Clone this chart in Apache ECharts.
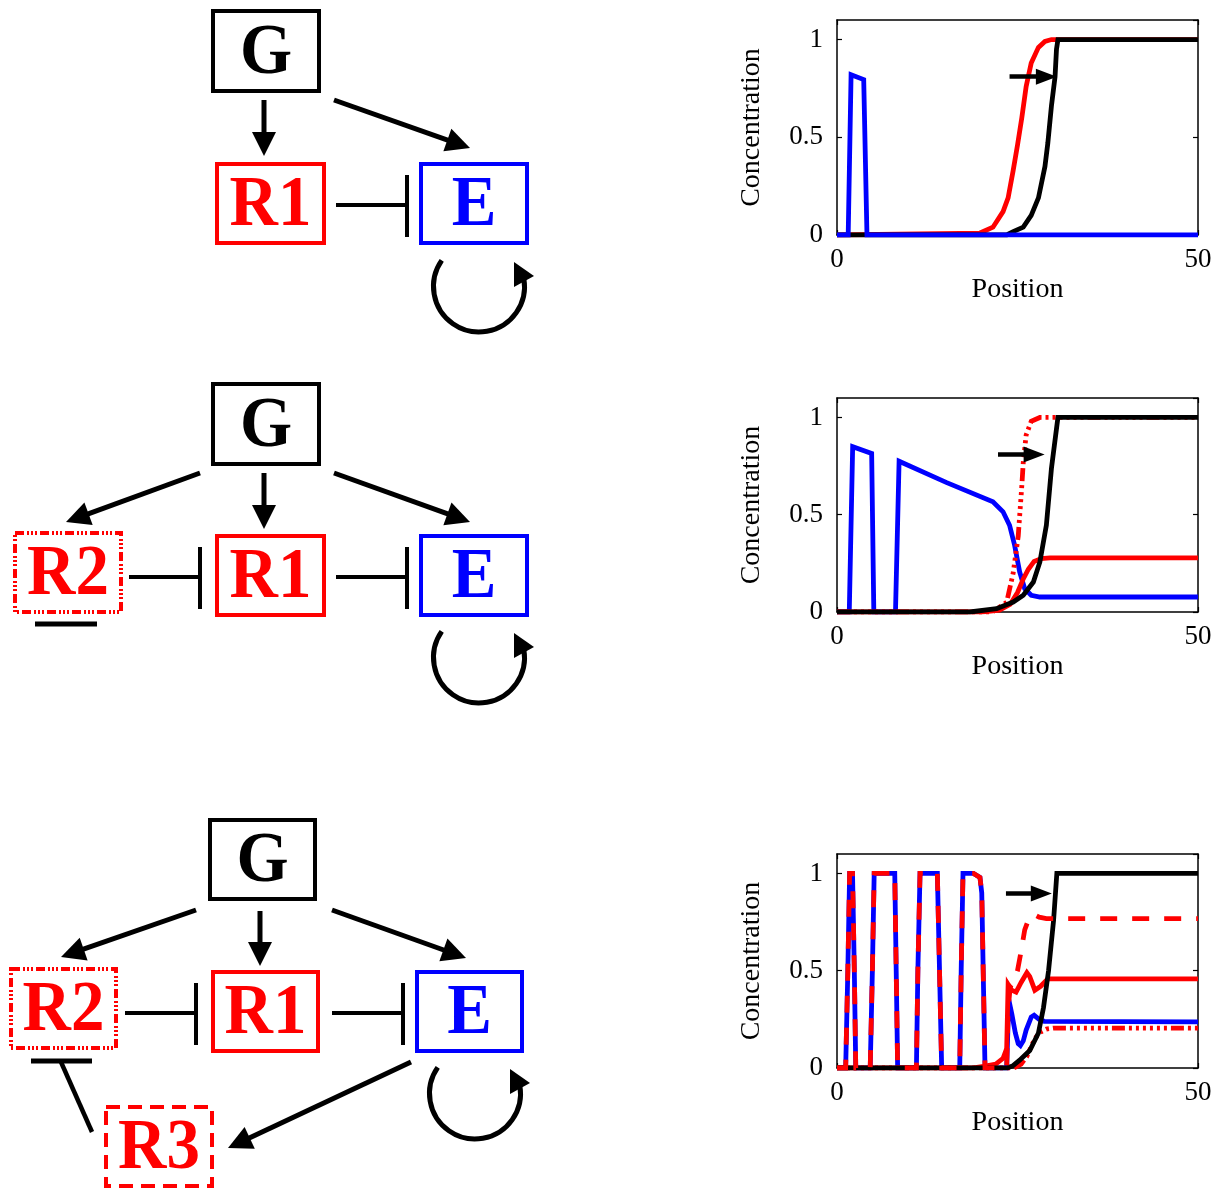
<!DOCTYPE html>
<html>
<head>
<meta charset="utf-8">
<script src="https://cdn.jsdelivr.net/npm/echarts@6/dist/echarts.min.js"></script>
<style>
  html, body { margin: 0; padding: 0; background: #ffffff; }
  #chart { width: 1224px; height: 1190px; }
</style>
</head>
<body>
<div id="chart"></div>
<script>
// ---- Axis ticks ----
const positionTicks = [0, 50];
const concentrationTicks = [0, 0.5, 1];

// ---- Panel 1: G, R1, E profiles along position ----
const p1G = [[0,0],[23.5,0],[24.4,0.017],[25.8,0.04],[26.9,0.1],[27.9,0.19],[28.8,0.35],[29.2,0.47],[29.7,0.66],[30.2,0.81],[30.4,0.95],[30.6,1],[50,1]];
const p1R1 = [[0,0],[19.8,0.01],[21.6,0.04],[23.0,0.12],[23.7,0.19],[24.4,0.33],[25.0,0.46],[25.6,0.6],[26.2,0.76],[26.9,0.88],[27.9,0.96],[28.8,0.99],[29.7,1],[50,1]];
const p1E = [[0,0],[1.55,0],[1.95,0.82],[3.7,0.795],[4.15,0],[50,0]];
const p1Shift = [23.9, 29.0, 0.81];   // [from, head, level]

// ---- Panel 2: G, R1, R2, E ----
const p2G = [[0,0],[18.4,0],[22.1,0.017],[24.4,0.051],[25.8,0.086],[27.2,0.154],[28.1,0.257],[29.0,0.446],[29.7,0.738],[30.6,1],[50,1]];
const p2R1 = [[0,0],[20,0],[22.5,0.01],[24.0,0.04],[25.0,0.1],[25.8,0.17],[26.5,0.22],[27.3,0.26],[28.3,0.275],[29.5,0.278],[50,0.278]];
const p2R2 = [[0,0],[21.5,0],[23.5,0.05],[24.4,0.2],[25.1,0.39],[25.6,0.65],[25.8,0.77],[26.2,0.91],[26.9,0.98],[28.1,1],[50,1]];
const p2E = [[0,0],[1.7,0],[2.17,0.85],[4.8,0.815],[5.1,0],[8.1,0],[8.6,0.775],[15.2,0.665],[21.6,0.566],[23.0,0.515],[23.9,0.446],[24.6,0.343],[25.3,0.206],[26.0,0.12],[26.9,0.086],[28.1,0.077],[50,0.077]];
const p2Shift = [22.3, 27.3, 0.81];

// ---- Panel 3: G, R1, R2, R3, E ----
const p3G = [[0,0],[23.5,0],[24.3,0.01],[25.3,0.04],[26.7,0.09],[27.9,0.18],[28.6,0.31],[29.3,0.5],[30.0,0.76],[30.45,1],[50,1]];
const p3R1 = [[0,0],[18.7,0],[20.5,0.01],[22.0,0.02],[23.0,0.05],[23.5,0.1],[23.7,0.43],[24.2,0.4],[24.8,0.39],[25.5,0.44],[26.3,0.49],[26.7,0.47],[27.4,0.4],[28.2,0.42],[29.2,0.458],[50,0.458]];
const p3R2 = [[0,0],[24.5,0],[25.5,0.02],[26.3,0.06],[27.0,0.12],[27.6,0.16],[28.2,0.185],[29.0,0.2],[30,0.205],[50,0.205]];
const p3R3 = [[0,0],[1.2,0],[1.5,0.5],[1.75,1],[2.15,1],[2.4,0.5],[2.6,0],[4.6,0],[4.9,0.5],[5.15,1],[8.0,1],[8.2,0.5],[8.4,0],[11.0,0],[11.2,0.5],[11.5,1],[13.9,1],[14.2,0.5],[14.5,0],[17.0,0],[17.2,0.5],[17.45,1],[18.9,1],[19.8,0.98],[20.05,0.9],[20.3,0.4],[20.5,0],[23.5,0],[23.7,0.3],[24.0,0.42],[24.5,0.44],[25.0,0.5],[25.5,0.6],[26.0,0.71],[26.6,0.77],[27.2,0.79],[28.0,0.775],[29,0.768],[50,0.768]];
const p3E = [[0,0],[1.2,0],[1.5,0.5],[1.75,1],[2.15,1],[2.4,0.5],[2.6,0],[4.6,0],[4.9,0.5],[5.15,1],[8.0,1],[8.2,0.5],[8.4,0],[11.0,0],[11.2,0.5],[11.5,1],[13.9,1],[14.2,0.5],[14.5,0],[17.0,0],[17.2,0.5],[17.45,1],[18.9,1],[19.8,0.98],[20.05,0.9],[20.3,0.4],[20.5,0],[23.5,0],[23.8,0.35],[24.2,0.28],[24.7,0.18],[25.1,0.125],[25.4,0.115],[25.8,0.14],[26.2,0.195],[26.9,0.262],[27.3,0.271],[28.0,0.25],[28.7,0.24],[50,0.237]];
const p3Shift = [23.4, 28.3, 0.897];

// ---- Styling ----
const SERIF = '"Liberation Serif", "Times New Roman", serif';
const RED = '#ff0000', BLUE = '#0000ff', BLACK = '#000000';
const DASHDOT = [13, 4, 3, 4, 3, 4, 3, 4, 3, 4, 3, 4, 3, 4];
const DASHED = [17, 15];
const LINE_W = 4.8;

const grids = [
  { left: 837, top: 20,  width: 361, height: 215 },
  { left: 837, top: 398, width: 361, height: 214 },
  { left: 837, top: 854, width: 361, height: 214 }
];

const xAxes = [], yAxes = [];
grids.forEach((g, i) => {
  xAxes.push({
    gridIndex: i, type: 'value', position: 'bottom',
    min: positionTicks[0], max: positionTicks[positionTicks.length - 1], interval: 50,
    name: 'Position', nameLocation: 'middle', nameGap: 41,
    nameTextStyle: { fontFamily: SERIF, fontSize: 28, color: BLACK },
    axisLine: { onZero: false, lineStyle: { color: BLACK, width: 1.5 } },
    axisTick: { inside: true, length: 5, lineStyle: { color: BLACK, width: 1.2 } },
    axisLabel: { fontFamily: SERIF, fontSize: 27, color: BLACK, margin: 11 },
    splitLine: { show: false }
  });
  xAxes.push({
    gridIndex: i, type: 'value', position: 'top',
    min: positionTicks[0], max: positionTicks[positionTicks.length - 1], interval: 50,
    axisLine: { onZero: false, lineStyle: { color: BLACK, width: 1.5 } },
    axisTick: { inside: true, length: 5, lineStyle: { color: BLACK, width: 1.2 } },
    axisLabel: { show: false }, splitLine: { show: false }
  });
  yAxes.push({
    gridIndex: i, type: 'value', position: 'left',
    min: 0, max: 1.1, interval: 0.5,
    name: 'Concentration', nameLocation: 'middle', nameGap: 71,
    nameTextStyle: { fontFamily: SERIF, fontSize: 28, color: BLACK },
    axisLine: { onZero: false, lineStyle: { color: BLACK, width: 1.5 } },
    axisTick: { inside: true, length: 5, lineStyle: { color: BLACK, width: 1.2 } },
    axisLabel: {
      fontFamily: SERIF, fontSize: 27, color: BLACK, margin: 14, showMaxLabel: false,
      formatter: v => concentrationTicks.some(t => Math.abs(t - v) < 1e-9) ? String(v) : ''
    },
    splitLine: { show: false }
  });
  yAxes.push({
    gridIndex: i, type: 'value', position: 'right',
    min: 0, max: 1.1, interval: 0.5,
    axisLine: { onZero: false, lineStyle: { color: BLACK, width: 1.5 } },
    axisTick: { inside: true, length: 5, lineStyle: { color: BLACK, width: 1.2 } },
    axisLabel: { show: false }, splitLine: { show: false }
  });
});

function curve(panel, data, color, dash) {
  return {
    type: 'line', xAxisIndex: panel * 2, yAxisIndex: panel * 2,
    data: data, showSymbol: false, symbol: 'none', smooth: false,
    lineStyle: { color: color, width: LINE_W, type: dash || 'solid', cap: 'butt', join: 'miter' },
    silent: true, animation: false
  };
}

function shift(panel, s) {
  return {
    type: 'line', xAxisIndex: panel * 2, yAxisIndex: panel * 2, data: [],
    silent: true, animation: false,
    markLine: {
      silent: true, animation: false,
      symbol: ['none', 'triangle'], symbolSize: [16, 21],
      label: { show: false },
      lineStyle: { color: BLACK, width: 4.5, type: 'solid' },
      emphasis: { disabled: true },
      data: [[{ coord: [s[0], s[2]] }, { coord: [s[1], s[2]] }]]
    }
  };
}

const series = [
  curve(0, p1R1, RED), curve(0, p1G, BLACK), curve(0, p1E, BLUE), shift(0, p1Shift),
  curve(1, p2E, BLUE), curve(1, p2R1, RED), curve(1, p2R2, RED, DASHDOT), curve(1, p2G, BLACK), shift(1, p2Shift),
  curve(2, p3E, BLUE), curve(2, p3R1, RED), curve(2, p3R2, RED, DASHDOT), curve(2, p3G, BLACK), curve(2, p3R3, RED, DASHED), shift(2, p3Shift)
];

// ---- Network diagrams (drawn as graphic elements) ----
const LABEL_FONT = 'bold 67px ' + SERIF;
const BOX_DASHDOT = [9, 3, 2, 2, 2, 2, 2, 3];
const BOX_DASHED = [14, 8];

function box(x0, y0, x1, y1, color, dash, text) {
  const els = [{
    type: 'rect',
    shape: { x: x0 + 2, y: y0 + 2, width: x1 - x0 - 4, height: y1 - y0 - 4 },
    style: { fill: 'none', stroke: color, lineWidth: 4, lineDash: dash || null }
  }];
  els.push({
    type: 'text', x: (x0 + x1) / 2, y: (y0 + y1) / 2 + 3, scaleY: 1.08,
    style: {
      text: text, fill: color, font: LABEL_FONT,
      textAlign: 'center', textVerticalAlign: 'middle', align: 'center', verticalAlign: 'middle'
    }
  });
  return els;
}

function arrow(x1, y1, x2, y2) {
  const L = Math.hypot(x2 - x1, y2 - y1), ux = (x2 - x1) / L, uy = (y2 - y1) / L;
  const hl = 24, hw = 12, px = -uy, py = ux;
  const bx = x2 - ux * hl, by = y2 - uy * hl;
  return [
    { type: 'line', shape: { x1: x1, y1: y1, x2: bx + ux * 4, y2: by + uy * 4 },
      style: { stroke: BLACK, lineWidth: 5 } },
    { type: 'polygon', shape: { points: [[x2, y2], [bx + px * hw, by + py * hw], [bx - px * hw, by - py * hw]] },
      style: { fill: BLACK } }
  ];
}

function inhibit(x1, x2, y, half) {
  return [
    { type: 'line', shape: { x1: x1, y1: y, x2: x2, y2: y }, style: { stroke: BLACK, lineWidth: 4 } },
    { type: 'line', shape: { x1: x2, y1: y - half, x2: x2, y2: y + half + 2 }, style: { stroke: BLACK, lineWidth: 4 } }
  ];
}

function loop(cx, cy) {
  return [
    { type: 'arc',
      shape: { cx: cx, cy: cy, r: 45.5, startAngle: -10 * Math.PI / 180, endAngle: 215 * Math.PI / 180, clockwise: true },
      style: { fill: 'none', stroke: BLACK, lineWidth: 5 } },
    { type: 'polygon', shape: { points: [[cx + 35, cy - 24.5], [cx + 35, cy + 0.5], [cx + 55, cy - 10.5]] },
      style: { fill: BLACK } }
  ];
}

const graphic = [].concat(
  // network 1
  box(211, 9, 321, 93, BLACK, null, 'G'),
  box(215, 162, 326, 245, RED, null, 'R1'),
  box(419, 162, 529, 245, BLUE, null, 'E'),
  arrow(264, 100, 264, 156),
  arrow(334, 100, 470, 148),
  inhibit(336, 407, 205, 30),
  loop(479, 286.5),

  // network 2
  box(211, 382, 321, 466, BLACK, null, 'G'),
  box(13, 531, 123, 614, RED, BOX_DASHDOT, 'R2'),
  box(215, 534, 326, 617, RED, null, 'R1'),
  box(419, 534, 529, 617, BLUE, null, 'E'),
  arrow(200, 473, 66, 522),
  arrow(264, 473, 264, 529),
  arrow(334, 473, 470, 522),
  inhibit(129, 200, 577, 30),
  inhibit(336, 407, 577, 30),
  [{ type: 'line', shape: { x1: 35, y1: 624, x2: 97, y2: 624 }, style: { stroke: BLACK, lineWidth: 5 } }],
  loop(479, 657.5),

  // network 3
  box(208, 818, 317, 901, BLACK, null, 'G'),
  box(9, 967, 118, 1050, RED, BOX_DASHDOT, 'R2'),
  box(211, 970, 320, 1053, RED, null, 'R1'),
  box(415, 970, 524, 1053, BLUE, null, 'E'),
  box(104, 1105, 214, 1188, RED, BOX_DASHED, 'R3'),
  arrow(196, 910, 61, 957),
  arrow(260, 911, 260, 966),
  arrow(332, 910, 466, 958),
  arrow(411, 1062, 228, 1148),
  inhibit(125, 196, 1013, 30),
  inhibit(332, 403, 1013, 30),
  [{ type: 'line', shape: { x1: 31, y1: 1061, x2: 92, y2: 1061 }, style: { stroke: BLACK, lineWidth: 5 } },
   { type: 'line', shape: { x1: 61, y1: 1062, x2: 92, y2: 1132 }, style: { stroke: BLACK, lineWidth: 4.5 } }],
  loop(475, 1093.5)
);

const chart = echarts.init(document.getElementById('chart'), null, { renderer: 'canvas' });
chart.setOption({
  backgroundColor: '#ffffff',
  animation: false,
  grid: grids,
  xAxis: xAxes,
  yAxis: yAxes,
  series: series,
  graphic: graphic
});
</script>
</body>
</html>
